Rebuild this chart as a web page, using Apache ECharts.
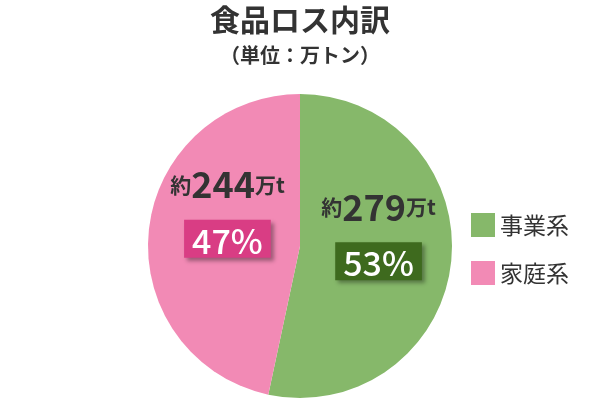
<!DOCTYPE html>
<html>
<head>
<meta charset="utf-8">
<script src="https://cdn.jsdelivr.net/npm/echarts@6/dist/echarts.min.js"></script>
<style>html,body{margin:0;padding:0;background:#fff}#main{width:600px;height:420px}</style>
</head>
<body>
<div id="main"></div>
<script>
var names = ['事業系', '家庭系'];
var amounts = [279, 244];
var shares = [53, 47];
var colors = ['#86b86a', '#f28ab5'];
var boxColors = ['#3e6a1e', '#d93d84'];
var labelShift = [[0, -20], [6, -26]];

var chart = echarts.init(document.getElementById('main'));
var font = '"Noto Sans CJK JP", sans-serif';

var data = names.map(function (n, i) {
    return {
        name: n,
        value: amounts[i],
        itemStyle: { color: colors[i] },
        label: {
            offset: labelShift[i],
            rich: {
                box: {
                    backgroundColor: boxColors[i], color: '#fff', fontSize: 34, fontWeight: 500,
                    padding: [4, 8, 0, 8], fontFamily: font, shadowColor: 'rgba(0,0,0,0.35)', shadowOffsetX: 3, shadowOffsetY: 3, shadowBlur: 4
                }
            }
        }
    };
});

var option = {
    textStyle: { fontFamily: font },
    title: {
        text: '食品ロス内訳',
        subtext: '（単位：万トン）',
        left: 'center', top: 0, itemGap: 10,
        textStyle: { fontSize: 30, fontWeight: 'bold', color: '#333', fontFamily: font },
        subtextStyle: { fontSize: 20, fontWeight: 'bold', color: '#333', fontFamily: font }
    },
    legend: {
        orient: 'vertical', left: 466, top: 208, itemGap: 24,
        itemWidth: 24, itemHeight: 24, icon: 'rect',
        textStyle: { fontSize: 23, color: '#333', fontFamily: font },
        data: names
    },
    series: [{
        type: 'pie',
        center: [300, 246],
        radius: 152,
        startAngle: 90,
        clockwise: true,
        silent: true,
        label: {
            position: 'inside',
            formatter: function (p) {
                return '{s|約}{n|' + p.value + '}{s|万t}\n{box|' + shares[p.dataIndex] + '%}';
            },
            lineHeight: 54,
            rich: {
                s: { fontSize: 21, fontWeight: 'bold', color: '#333', fontFamily: font },
                n: { fontSize: 36, fontWeight: 'bold', color: '#333', fontFamily: font }
            }
        },
        labelLine: { show: false },
        data: data
    }]
};
chart.setOption(option);
</script>
</body>
</html>
